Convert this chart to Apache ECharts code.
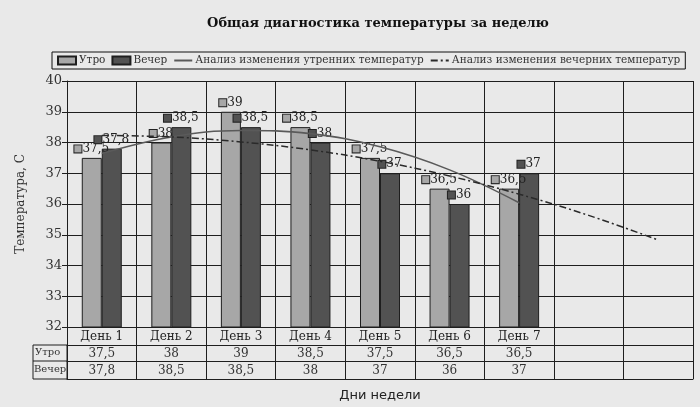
<!DOCTYPE html>
<html>
<head>
<meta charset="utf-8">
<script src="https://cdn.jsdelivr.net/npm/echarts@6/dist/echarts.min.js"></script>
<style>
html,body{margin:0;padding:0;background:#e9e9e9;}
#c{width:700px;height:407px;}
</style>
</head>
<body>
<div id="c"></div>
<script>
const categories = ['День 1','День 2','День 3','День 4','День 5','День 6','День 7','',''];
const morning = [37.5, 38, 39, 38.5, 37.5, 36.5, 36.5];
const evening = [37.8, 38.5, 38.5, 38, 37, 36, 37];
const morningTrend = [37.64, 38.18, 38.39, 38.29, 37.86, 37.11, 36.04];
const eveningTrend = [38.23, 38.18, 38.02, 37.76, 37.39, 36.91, 36.32, 35.63, 34.83];
const rowLabels = ['Утро', 'Вечер'];
const seriesNames = ['Утро', 'Вечер', 'Анализ изменения утренних температур', 'Анализ изменения вечерних температур'];

const SERIF = '"DejaVu Serif", "Liberation Serif", serif';
const fmt = v => (v === undefined || v === null) ? ' ' : String(v).replace('.', ',');
const MCOL = '#a7a7a7', ECOL = '#525252', EDGE = '#1e1e1e';
const NOSYM = {color: 'rgba(0,0,0,0)', borderColor: 'rgba(0,0,0,0)', borderWidth: 0, opacity: 0};

const chart = echarts.init(document.getElementById('c'));

function barLabel(keyColor) {
  return {
    show: true, position: 'top', distance: 3,
    formatter: p => '{k|}{v|' + fmt(p.value) + '}',
    rich: {
      k: {width: 7, height: 7, backgroundColor: keyColor, borderColor: '#222', borderWidth: 1},
      v: {fontFamily: SERIF, fontSize: 12, color: '#222', padding: [0, 0, 0, 1]}
    }
  };
}

const plainAxis = (offset) => ({
  type: 'category', data: categories, position: 'bottom', offset: offset,
  axisLine: {show: true, lineStyle: {color: EDGE, width: 1}},
  axisTick: {show: false}, axisLabel: {show: false}, splitLine: {show: false}
});

chart.setOption({
  backgroundColor: '#e9e9e9',
  animation: false,
  title: {
    text: 'Общая диагностика температуры за неделю',
    left: 373, top: 12, textAlign: 'center',
    textStyle: {fontFamily: SERIF, fontSize: 13, fontWeight: 'bold', color: '#111'}
  },
  legend: {
    left: 52, top: 52,
    data: [
      {name: seriesNames[0], icon: 'rect'},
      {name: seriesNames[1], icon: 'rect'},
      {name: seriesNames[2], itemStyle: NOSYM},
      {name: seriesNames[3], itemStyle: NOSYM}
    ],
    borderColor: '#111', borderWidth: 1, padding: [3, 5],
    itemWidth: 18, itemHeight: 8, itemGap: 6,
    textStyle: {fontFamily: SERIF, fontSize: 10.5, color: '#333', padding: [0, 0, 0, -2]}
  },
  grid: {left: 67, right: 7, top: 81, bottom: 80},
  xAxis: [
    {
      type: 'category', data: categories, position: 'bottom',
      axisLine: {show: true, lineStyle: {color: EDGE, width: 1}},
      axisTick: {show: true, interval: 0, length: 52, lineStyle: {color: EDGE}},
      splitLine: {show: true, interval: 0, lineStyle: {color: EDGE, width: 1}},
      axisLabel: {
        interval: 0, margin: 1,
        formatter: (v, i) => '{d|' + (v || ' ') + '}\n{v|' + fmt(morning[i]) + '}\n{v|' + fmt(evening[i]) + '}',
        rich: {
          d: {fontFamily: SERIF, fontSize: 12, color: '#222', lineHeight: 17, height: 17},
          v: {fontFamily: SERIF, fontSize: 12, color: '#333', lineHeight: 17, height: 17}
        }
      },
      name: 'Дни недели', nameLocation: 'middle', nameGap: 62,
      nameTextStyle: {fontFamily: '"DejaVu Sans", sans-serif', fontSize: 13, color: '#222'}
    },
    plainAxis(18),
    plainAxis(34),
    plainAxis(52)
  ],
  yAxis: {
    type: 'value', min: 32, max: 40, interval: 1,
    axisLine: {show: true, lineStyle: {color: EDGE, width: 1}},
    axisTick: {show: true, length: 5, lineStyle: {color: EDGE}},
    axisLabel: {fontFamily: SERIF, fontSize: 13, color: '#333', margin: 5},
    splitLine: {show: true, lineStyle: {color: EDGE, width: 1}},
    name: 'Температура, С', nameLocation: 'middle', nameGap: 40, nameRotate: 90,
    nameTextStyle: {fontFamily: SERIF, fontSize: 12, color: '#333'}
  },
  graphic: [
    {type: 'rect', shape: {x: 33, y: 345, width: 34, height: 34}, style: {fill: 'none', stroke: EDGE, lineWidth: 1}, silent: true},
    {type: 'line', shape: {x1: 33, y1: 361, x2: 67, y2: 361}, style: {stroke: EDGE, lineWidth: 1}, silent: true},
    {type: 'text', left: 35, top: 347, style: {text: rowLabels[0], fontFamily: SERIF, fontSize: 10, fill: '#333'}},
    {type: 'text', left: 34, top: 364, style: {text: rowLabels[1], fontFamily: SERIF, fontSize: 10, fill: '#333'}}
  ],
  series: [
    {
      name: seriesNames[0], type: 'bar', data: morning, barWidth: 20, barGap: '0%',
      itemStyle: {color: MCOL, borderColor: EDGE, borderWidth: 1},
      label: barLabel(MCOL), z: 2
    },
    {
      name: seriesNames[1], type: 'bar', data: evening, barWidth: 20, barGap: '0%',
      itemStyle: {color: ECOL, borderColor: EDGE, borderWidth: 1},
      label: barLabel(ECOL), z: 2
    },
    {
      name: seriesNames[2], type: 'line', data: morningTrend, smooth: 0.4,
      symbol: 'none', showSymbol: false,
      itemStyle: {color: '#5a5a5a'},
      lineStyle: {color: '#5a5a5a', width: 1.6, type: 'solid'}, z: 3
    },
    {
      name: seriesNames[3], type: 'line', data: eveningTrend, smooth: 0.4,
      symbol: 'none', showSymbol: false,
      itemStyle: {color: '#2a2a2a'},
      lineStyle: {color: '#2a2a2a', width: 1.5, type: [7, 3, 2, 3]}, z: 3
    }
  ]
});
</script>
</body>
</html>
